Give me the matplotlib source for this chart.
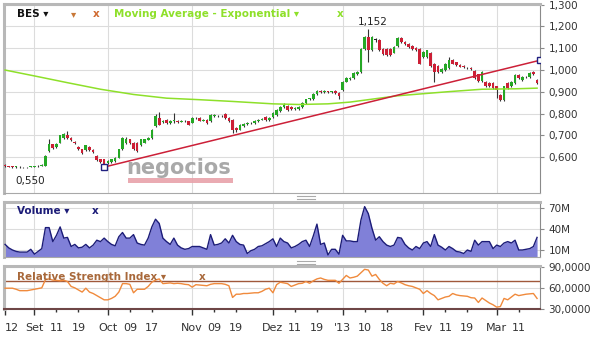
import numpy as np
import matplotlib
matplotlib.use('Agg')
import matplotlib.pyplot as plt
from matplotlib.lines import Line2D
from matplotlib.patches import Rectangle
from matplotlib.ticker import FuncFormatter

# --- dados (dias de negociação, índice 0..145) ---
opens = [
    .565, .560, .557, .555, .556, .554, .553, .555, .557, .558,
    .560, .561, .629, .659, .645, .667, .690, .700, .690, .672,
    .648, .636, .633, .648, .633, .607, .590, .591, .573, .576,
    .583, .598, .636, .667, .682, .667, .667, .655, .667, .680,
    .689, .742, .780, .760, .773, .758, .766, .768, .763, .766,
    .765, .758, .778, .780, .768, .773, .765, .790, .790, .788,
    .800, .780, .773, .735, .727, .745, .752, .757, .755, .765,
    .773, .785, .770, .785, .795, .810, .830, .835, .830, .820,
    .820, .830, .850, .865, .865, .890, .905, .900, .902, .900,
    .905, .895, .910, .947, .960, .962, .980, .990, 1.098, 1.152,
    1.090, 1.140, 1.140, 1.098, 1.098, 1.095, 1.080, 1.110, 1.147, 1.130,
    1.120, 1.110, 1.100, 1.098, 1.060, 1.060, 1.080, 1.030, 1.020, .990,
    1.000, 1.010, 1.045, 1.035, 1.023, 1.018, 1.010, 1.010, .995, .980,
    .950, .947, .940, .940, .925, .885, .863, .940, .925, .940,
    .977, .955, .967, .967, .990, .955]
closes = [
    .560, .557, .555, .556, .554, .553, .555, .557, .559, .560,
    .566, .607, .659, .644, .660, .700, .705, .690, .680, .665,
    .636, .621, .654, .633, .625, .588, .577, .568, .583, .591,
    .598, .636, .689, .682, .667, .636, .629, .682, .682, .690,
    .727, .788, .750, .765, .758, .765, .769, .762, .766, .764,
    .750, .780, .780, .768, .772, .758, .795, .791, .788, .790,
    .780, .765, .727, .727, .750, .752, .757, .755, .765, .773,
    .776, .770, .782, .803, .818, .830, .841, .818, .822, .825,
    .830, .850, .865, .870, .890, .905, .900, .903, .900, .902,
    .895, .880, .947, .962, .963, .988, .992, 1.098, 1.152, 1.090,
    1.152, 1.140, 1.090, 1.075, 1.068, 1.070, 1.105, 1.147, 1.130, 1.118,
    1.107, 1.098, 1.090, 1.030, 1.085, 1.090, 1.020, .990, .990, 1.005,
    1.030, 1.045, 1.030, 1.023, 1.016, 1.012, 1.008, 1.006, .965, .950,
    .990, .925, .925, .917, .910, .863, .925, .917, .947, .977,
    .962, .970, .970, .985, .980, .940]
highs = [
    .568, .562, .559, .558, .558, .556, .557, .559, .561, .563,
    .569, .612, .682, .662, .664, .704, .709, .720, .693, .675,
    .652, .640, .658, .651, .636, .610, .594, .594, .586, .594,
    .601, .640, .693, .695, .686, .670, .671, .686, .685, .694,
    .731, .800, .806, .769, .777, .769, .803, .772, .770, .769,
    .768, .784, .784, .783, .776, .776, .799, .800, .794, .794,
    .805, .783, .776, .740, .754, .756, .761, .760, .769, .777,
    .780, .789, .786, .807, .822, .834, .850, .839, .834, .829,
    .834, .854, .869, .874, .894, .909, .909, .907, .906, .906,
    .908, .899, .951, .966, .967, .992, .996, 1.102, 1.158, 1.189,
    1.156, 1.146, 1.144, 1.102, 1.102, 1.099, 1.109, 1.151, 1.151, 1.134,
    1.124, 1.114, 1.104, 1.102, 1.089, 1.094, 1.084, 1.034, 1.024, 1.009,
    1.034, 1.058, 1.049, 1.039, 1.027, 1.022, 1.014, 1.014, .999, .984,
    .994, .951, .944, .944, .929, .889, .929, .944, .951, .981,
    .981, .974, .974, .989, .994, .959]
lows = [
    .556, .553, .552, .552, .551, .550, .551, .553, .555, .556,
    .558, .559, .625, .640, .642, .664, .686, .686, .676, .660,
    .632, .617, .630, .629, .620, .584, .573, .553, .570, .573,
    .580, .595, .632, .663, .663, .632, .622, .651, .664, .677,
    .685, .738, .746, .756, .754, .754, .758, .758, .760, .760,
    .746, .755, .774, .764, .764, .754, .762, .786, .784, .784,
    .776, .761, .712, .715, .724, .741, .748, .751, .752, .761,
    .769, .766, .767, .781, .791, .806, .826, .814, .818, .816,
    .816, .826, .846, .861, .861, .886, .896, .896, .896, .896,
    .891, .865, .906, .943, .956, .958, .976, .986, 1.094, 1.037,
    1.086, 1.128, 1.086, 1.071, 1.064, 1.066, 1.076, 1.106, 1.126, 1.114,
    1.103, 1.094, 1.086, 1.026, 1.056, 1.056, 1.016, .947, .986, .986,
    .996, 1.006, 1.026, 1.019, 1.012, 1.008, 1.004, 1.002, .961, .946,
    .946, .921, .921, .913, .870, .859, .859, .913, .921, .936,
    .958, .951, .963, .963, .976, .936]

volume = [
    18, 13, 10, 8, 7, 7, 7, 11, 4, 8,
    12, 42, 42, 22, 31, 43, 27, 28, 15, 18,
    13, 14, 18, 13, 17, 24, 22, 27, 22, 18,
    16, 29, 35, 27, 27, 32, 20, 18, 17, 27,
    43, 54, 48, 27, 22, 18, 27, 17, 13, 11,
    12, 15, 15, 15, 13, 11, 32, 17, 18, 20,
    26, 20, 31, 22, 18, 17, 5, 9, 11, 15,
    16, 19, 22, 26, 15, 27, 22, 20, 13, 15,
    18, 22, 24, 15, 30, 47, 18, 20, 3, 11,
    11, 4, 31, 23, 23, 22, 22, 53, 72, 62,
    41, 24, 29, 22, 17, 15, 17, 28, 27, 18,
    13, 10, 15, 12, 20, 22, 15, 32, 17, 14,
    10, 15, 12, 8, 7, 5, 10, 8, 24, 17,
    22, 22, 22, 12, 17, 15, 20, 22, 20, 24,
    10, 10, 11, 12, 15, 28]

rsi = [
    59.5, 59.5, 59.5, 58, 56, 56, 56, 57, 58, 59,
    60, 71.7, 72.7, 71, 70.7, 70, 70.7, 69, 62, 60,
    57, 54, 59.5, 54, 52, 49, 46, 43, 43, 45,
    48, 54, 66, 66, 65, 53, 58, 58, 58, 62,
    68, 71, 72.7, 66, 66.5, 67, 66, 66.5, 66, 65,
    64.5, 61, 64.5, 64, 63.5, 63, 65, 66, 66, 66,
    65, 63, 46.4, 51, 51, 52, 52, 52.5, 53, 53,
    55, 58, 59.5, 53, 64.5, 68, 67, 66, 62, 64,
    66, 66.5, 69, 66.5, 70, 72.7, 74, 72, 70.7, 70.7,
    70.7, 66.5, 72, 77.6, 74, 75, 76.6, 81.5, 86.3, 85.3,
    76.6, 79, 72, 66.5, 63, 66.5, 65.5, 69, 67, 64.5,
    63, 62, 60, 58, 52, 56, 52, 49, 43, 45,
    47, 48, 52, 50, 49, 48.5, 48, 46, 45.6, 39.3,
    45.6, 42, 38.5, 36, 32.6, 33.5, 45, 43, 47, 51,
    49, 50, 51, 51.5, 52, 45]

ema_days = [0, 8, 17, 26, 35, 44, 53, 62, 73, 80, 88, 94, 107, 121, 130, 139, 145]
ema_vals = [1.000, .973, .942, .912, .888, .871, .864, .856, .845, .842,
            .845, .853, .882, .901, .912, .914, .917]

trend_days = [27, 145.8]
trend_vals = [.555, 1.045]

month_days = [0, 8, 28, 51, 73, 92, 114, 134]
month_labels = ['12', 'Set', 'Oct', 'Nov', 'Dez', "'13", 'Fev', 'Mar']
mid_days = [14, 20, 34, 40, 57, 63, 79, 85, 98, 104, 120, 126, 140]
mid_labels = ['11', '19', '09', '17', '09', '19', '11', '19', '10', '18', '11', '19', '11']

price_ticks = [0.6, 0.7, 0.8, 0.9, 1.0, 1.1, 1.2, 1.3]
vol_ticks = [10, 40, 70]
rsi_ticks = [30, 60, 90]

# --- figura ---
W, H = 600, 337
fig = plt.figure(figsize=(6, 3.37), dpi=100)
plt.rcParams['font.family'] = ['DejaVu Sans']


def fx(x):
    return x / W


def fy(y):
    return 1 - y / H


def add_panel(top, bottom, left=4, right=540):
    a = fig.add_axes([fx(left), fy(bottom), (right - left) / W, (bottom - top) / H])
    for s in a.spines.values():
        s.set_color('#a8a8a8')
        s.set_linewidth(0.8)
    a.spines['top'].set_color('#b8b8b8')
    a.spines['top'].set_linewidth(2.2)
    a.spines['left'].set_color('#b8b8b8')
    a.spines['left'].set_linewidth(2.2)
    a.spines['right'].set_color('#8a8a8a')
    a.yaxis.tick_right()
    a.tick_params(axis='y', direction='out', length=3, pad=3, labelsize=7.5,
                  colors='#8a8a8a', labelcolor='#333333')
    a.set_xlim(-0.3, 145.8)
    a.set_xticks(month_days[1:])
    a.tick_params(axis='x', bottom=False, labelbottom=False)
    a.grid(True, color='#dcdcdc', lw=0.8)
    a.set_axisbelow(True)
    return a


ax = add_panel(4, 193)
axv = add_panel(202, 257)
axr = add_panel(266, 309)

x = np.arange(len(closes))
o = np.array(opens)
c = np.array(closes)

# --- preço ---
cols = ['#25a825' if cc > oo else ('#cc1f35' if cc < oo else '#222222') for oo, cc in zip(o, c)]
ax.vlines(x, lows, highs, color='#333333', lw=0.8, zorder=3)
ax.bar(x, np.maximum(np.abs(c - o), 0.003), bottom=np.minimum(o, c), width=0.72,
       color=cols, zorder=4)
ax.plot(ema_days, ema_vals, color='#8ee02a', lw=1.1, zorder=5)
ax.plot(trend_days, trend_vals, color='#cc2038', lw=1.1, zorder=5)
ax.plot(trend_days, trend_vals, ls='none', marker='s', ms=4.5, mfc='white',
        mec='#202080', mew=1, zorder=6)
ax.set_ylim(0.436, 1.303)
ax.set_yticks(price_ticks)
ax.yaxis.set_major_formatter(FuncFormatter(lambda v, p: f'{v:.3f}'.replace('.', ',')))

imax = int(np.argmax(highs))
ax.annotate(f'{max(closes):.3f}'.replace('.', ','), (imax, highs[imax]), xytext=(3, 1),
            textcoords='offset points', ha='center', va='bottom', fontsize=7.5, color='#222222')
imin = int(np.argmin(lows))
ax.annotate(f'{min(lows):.3f}'.replace('.', ','), (imin, lows[imin]), xytext=(5, -9),
            textcoords='offset points', ha='center', va='center', fontsize=7.5, color='#222222')

# marca d'água
fig.text(fx(126), fy(174), 'negocios', fontsize=15, fontweight='bold', color='#9a9a9a',
         alpha=0.85, ha='left', va='baseline', zorder=2)
fig.patches.append(Rectangle((fx(128), fy(183)), 105 / W, 5.5 / H, transform=fig.transFigure,
                             facecolor='#e8a2aa', edgecolor='none', alpha=0.9, zorder=1))

# --- volume ---
axv.fill_between(x, volume, 0, color='#8080d8', lw=0, zorder=2)
axv.plot(x, volume, color='#1c1c78', lw=1, zorder=3)
axv.set_ylim(0, 78.6)
axv.set_yticks(vol_ticks)
axv.set_yticklabels([f'{v}M' for v in vol_ticks])

# --- RSI ---
axr.axhline(70, color='#a0583a', lw=1, zorder=2)
axr.plot(x, rsi, color='#f08a3c', lw=1, zorder=3)
axr.set_ylim(30, 91)
axr.set_yticks(rsi_ticks)
axr.set_yticklabels([f'{v},0000' for v in rsi_ticks])
axr.spines['bottom'].set_color('#6e4646')
axr.spines['bottom'].set_linewidth(1.5)
axr.set_xticks(month_days, month_labels)
axr.set_xticks(mid_days, mid_labels, minor=True)
axr.tick_params(axis='x', which='major', bottom=True, labelbottom=True, length=4,
                width=1, colors='#333333', pad=6, labelsize=8)
axr.tick_params(axis='x', which='minor', bottom=True, labelbottom=True, length=2.5,
                width=1, colors='#333333', pad=7.5, labelsize=8)
axr.grid(True, which='major', color='#dcdcdc', lw=0.8)
axr.get_xticklabels()[0].set_horizontalalignment('left')

# --- legendas dos painéis ---
fig.text(fx(17), fy(14), 'BES \u25be', fontsize=7.5, fontweight='bold', color='#111111', va='center')
fig.text(fx(71), fy(14), '\u25be', fontsize=7.5, color='#c87838', va='center')
fig.text(fx(93), fy(14), 'x', fontsize=7.5, fontweight='bold', color='#d06a30', va='center')
fig.text(fx(114), fy(14), 'Moving Average - Exponential \u25be', fontsize=7.5, fontweight='bold',
         color='#8ee02a', va='center')
fig.text(fx(337), fy(14), 'x', fontsize=7.5, fontweight='bold', color='#8ee02a', va='center')

fig.text(fx(17), fy(211), 'Volume \u25be', fontsize=7.5, fontweight='bold', color='#1c1c78', va='center')
fig.text(fx(92), fy(211), 'x', fontsize=7.5, fontweight='bold', color='#1c1c78', va='center')

fig.text(fx(17), fy(277), 'Relative Strength Index \u25be', fontsize=7.5, fontweight='bold',
         color='#a8683a', va='center')
fig.text(fx(199), fy(277), 'x', fontsize=7.5, fontweight='bold', color='#a8683a', va='center')

# separadores
for yy in (196, 198.5, 261, 263.5):
    fig.add_artist(Line2D([fx(297), fx(315)], [fy(yy), fy(yy)], color='#aaaaaa', lw=0.8))

fig.savefig('out.png', dpi=100)
